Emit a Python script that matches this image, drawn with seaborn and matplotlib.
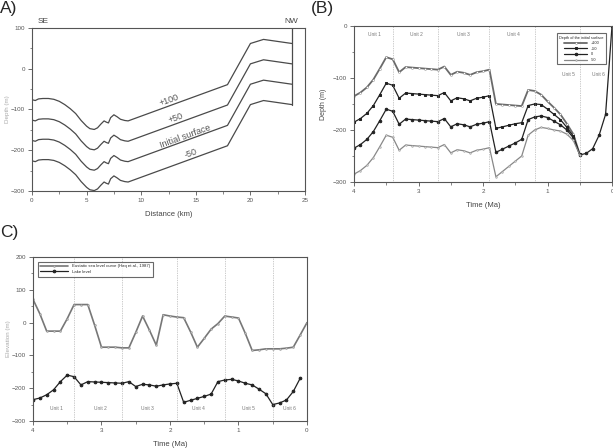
import matplotlib
matplotlib.use("Agg")
import matplotlib.pyplot as plt
import seaborn as sns
from matplotlib.ticker import MultipleLocator

# ---- Panel A: cross-section profiles (distance km vs elevation m)
dist_km = [0, 0.3, 0.6, 1.0, 1.5, 2.0, 2.5, 3.0, 3.5, 4.0, 4.5, 5.0, 5.3, 5.7, 6.0, 6.3,
           6.6, 6.8, 7.0, 7.2, 7.5, 7.8, 8.1, 8.5, 8.8, 17.9, 20.0, 21.2, 23.8]
prof_p100 = [-76, -78, -74, -73, -73, -75, -80, -88, -98, -110, -127, -141, -147, -149, -145, -136,
             -128, -131, -133, -120, -113, -118, -124, -127, -128, -39, 62, 72, 62]
prof_p50 = [-126, -128, -124, -123, -123, -125, -130, -138, -148, -160, -177, -191, -197, -199, -195, -186,
            -178, -181, -183, -170, -163, -168, -174, -177, -178, -89, 12, 22, 12]
prof_init = [-176, -178, -174, -173, -173, -175, -180, -188, -198, -210, -227, -241, -247, -249, -245, -236,
             -228, -231, -233, -220, -213, -218, -224, -227, -228, -139, -38, -28, -38]
prof_m50 = [-226, -228, -224, -223, -223, -225, -230, -238, -248, -260, -277, -291, -297, -299, -295, -286,
            -278, -281, -283, -270, -263, -268, -274, -277, -278, -189, -88, -78, -88]
nw_edge_x = [23.8, 23.8]
nw_edge_y = [100, -88]
prof_labels = ["+100", "+50", "Initial surface", "-50"]
prof_label_x = [12.6, 13.2, 14.0, 14.5]
prof_label_y = [-76, -120, -166, -208]

# ---- Panel B: depth of the lake floor through time
t_b = [4.0, 3.9, 3.8, 3.7, 3.6, 3.5, 3.4, 3.3, 3.2, 3.1, 3.0, 2.9, 2.8, 2.7, 2.6, 2.5, 2.4, 2.3,
       2.2, 2.1, 2.0, 1.9, 1.8, 1.7, 1.6, 1.5, 1.4, 1.3, 1.2, 1.1, 1.0, 0.9, 0.8, 0.7, 0.6, 0.5]
depth_p100 = [-135, -128, -118, -103, -82, -60, -64, -89, -79, -80, -81, -82, -83, -84, -78, -94, -88, -90,
              -94, -89, -87, -84, -150, -151, -152, -153, -154, -123, -125, -132, -145, -157, -170, -188, -208, -247]
depth_p50 = [-185, -178, -168, -153, -132, -110, -114, -139, -129, -130, -131, -132, -133, -134, -128, -144, -138, -140,
             -144, -139, -137, -134, -197, -194, -191, -188, -186, -153, -150, -151, -160, -170, -180, -195, -212, -247]
t_b0 = t_b + [0.4, 0.3, 0.2, 0.1, 0.0]
depth_0 = [-235, -228, -218, -203, -182, -160, -164, -189, -179, -180, -181, -182, -183, -184, -178, -194, -188, -190,
           -194, -189, -187, -184, -243, -237, -231, -225, -218, -180, -175, -173, -176, -183, -190, -200, -215, -248,
           -245, -236, -210, -170, 0]
depth_m50 = [-285, -278, -268, -253, -232, -210, -214, -239, -229, -230, -231, -232, -233, -234, -228, -244, -238, -240,
             -244, -239, -237, -234, -290, -280, -270, -260, -250, -210, -200, -195, -197, -200, -202, -208, -220, -248]
depth_labels = ["+100", "+50", "0", "-50"]

unit_bounds = [3.4, 2.7, 1.9, 1.2, 0.5]
unit_names = ["Unit 1", "Unit 2", "Unit 3", "Unit 4", "Unit 5", "Unit 6"]
unit_x_b = [3.69, 3.03, 2.31, 1.53, 0.68, 0.21]
unit_y_b = [-16, -16, -16, -16, -94, -94]

# ---- Panel C: eustatic sea level vs lake level
t_c = [4.0, 3.9, 3.8, 3.7, 3.6, 3.5, 3.4, 3.3, 3.2, 3.1, 3.0, 2.9, 2.8, 2.7, 2.6, 2.5, 2.4, 2.3, 2.2, 2.1,
       2.0, 1.9, 1.8, 1.7, 1.6, 1.5, 1.4, 1.3, 1.2, 1.1, 1.0, 0.9, 0.8, 0.7, 0.6, 0.5, 0.4, 0.3, 0.2, 0.1, 0.0]
eustatic = [71, 27, -26, -26, -26, 12, 55, 55, 55, -8, -75, -75, -75, -77, -77, -30, 20, -23, -69, 24,
            20, 17, 15, -28, -75, -48, -20, -3, 20, 17, 14, -33, -85, -83, -80, -80, -80, -78, -75, -38, 0]
t_lake = t_c[:-1]
lake = [-235, -230, -220, -205, -180, -160, -165, -190, -180, -181, -182, -183, -184, -185, -180, -195, -188, -190,
        -194, -190, -187, -185, -243, -237, -231, -225, -218, -180, -175, -173, -178, -185, -190, -203, -217, -250,
        -245, -236, -210, -170]
unit_x_c = [3.66, 3.02, 2.33, 1.58, 0.86, 0.25]
unit_y_c = [-262, -262, -262, -262, -262, -262]

sns.set_style("ticks")
plt.rcParams['font.family'] = ['Liberation Sans', 'DejaVu Sans']
plt.rcParams['axes.linewidth'] = 0.8
plt.rcParams['axes.edgecolor'] = '#555555'
plt.rcParams['xtick.color'] = '#555555'
plt.rcParams['ytick.color'] = '#555555'

fig = plt.figure(figsize=(6.13, 4.48), dpi=100)
ax_a = fig.add_axes([0.0522, 0.5737, 0.4454, 0.3638])
ax_b = fig.add_axes([0.5775, 0.5938, 0.4209, 0.3482])
ax_c = fig.add_axes([0.0538, 0.0603, 0.447, 0.366])

line_col = '#4a4a4a'


def style_axes(ax, xmaj, xmin, ymaj, ymin):
    ax.xaxis.set_major_locator(MultipleLocator(xmaj))
    ax.xaxis.set_minor_locator(MultipleLocator(xmin))
    ax.yaxis.set_major_locator(MultipleLocator(ymaj))
    ax.yaxis.set_minor_locator(MultipleLocator(ymin))
    ax.tick_params(which='major', length=3, width=0.6, labelsize=4.5, pad=2)
    ax.tick_params(which='minor', length=1.8, width=0.5)
    for s in ax.spines.values():
        s.set_visible(True)


# ---------------- Panel A
for prof in [prof_p100, prof_p50, prof_init, prof_m50]:
    sns.lineplot(x=dist_km, y=prof, ax=ax_a, color=line_col, lw=0.9, sort=False, estimator=None)
sns.lineplot(x=nw_edge_x, y=nw_edge_y, ax=ax_a, color=line_col, lw=0.9, sort=False, estimator=None)
for lab, lx, ly in zip(prof_labels, prof_label_x, prof_label_y):
    ax_a.text(lx, ly, lab, rotation=20, fontsize=6.5, color='#555555', ha='center', va='center')
ax_a.set_xlim(0, 25)
ax_a.set_ylim(-300, 100)
style_axes(ax_a, 5, 2.5, 100, 50)
ax_a.set_xlabel("Distance (km)", fontsize=5.5, color='#444444', labelpad=6)
ax_a.set_ylabel("Depth (m)", fontsize=4.5, color='#aaaaaa', labelpad=1)
ax_a.text(0.02, 1.02, "SE", transform=ax_a.transAxes, fontsize=6, color='#444444', va='bottom')
ax_a.text(0.95, 1.02, "NW", transform=ax_a.transAxes, fontsize=6, color='#444444', va='bottom', ha='center')
fig.text(0.0, 0.998, "A)", fontsize=12.5, va='top', ha='left')

# ---------------- Panel B
sns.lineplot(x=t_b, y=depth_p100, ax=ax_b, color='#6a6a6a', lw=1.3, marker='o', ms=1.4,
             mfc='white', mec='#777777', mew=0.3, label=depth_labels[0])
sns.lineplot(x=t_b, y=depth_p50, ax=ax_b, color='#222222', lw=0.9, marker='s', ms=1.8,
             mec='#222222', label=depth_labels[1])
sns.lineplot(x=t_b0, y=depth_0, ax=ax_b, color='#222222', lw=0.9, marker='o', ms=1.8,
             mec='#222222', label=depth_labels[2])
sns.lineplot(x=t_b, y=depth_m50, ax=ax_b, color='#888888', lw=0.9, marker='o', ms=1.3,
             mfc='#cccccc', mec='#999999', mew=0.3, label=depth_labels[3])
for xb in unit_bounds:
    ax_b.axvline(xb, color='#999999', lw=0.5, ls=(0, (1, 1.5)))
for name, ux, uy in zip(unit_names, unit_x_b, unit_y_b):
    ax_b.text(ux, uy, name, fontsize=3.5, color='#777777', ha='center', va='center')
ax_b.set_xlim(4, 0)
ax_b.set_ylim(-300, 0)
style_axes(ax_b, 1, 0.5, 100, 50)
ax_b.set_xlabel("Time (Ma)", fontsize=5.5, color='#444444', labelpad=6)
ax_b.set_ylabel("Depth (m)", fontsize=5, color='#444444', labelpad=4)
leg_b = ax_b.legend(title="Depth of the initial surface", loc='upper right', fontsize=2.8,
                    title_fontsize=2.8, frameon=True, fancybox=False, edgecolor='#444444',
                    handlelength=6, borderpad=0.6, labelspacing=0.4, bbox_to_anchor=(0.985, 0.965))
leg_b.get_frame().set_linewidth(0.8)
fig.text(0.507, 0.998, "(B)", fontsize=12.5, va='top', ha='left')

# ---------------- Panel C
sns.lineplot(x=t_c, y=eustatic, ax=ax_c, color='#777777', lw=1.2, marker='o', ms=1.4,
             mfc='#bbbbbb', mec='#888888', mew=0.3, label="Eustatic sea level curve (Haq et al., 1987)")
sns.lineplot(x=t_lake, y=lake, ax=ax_c, color='#222222', lw=0.9, marker='o', ms=1.9,
             mec='#222222', label="Lake level")
for xb in unit_bounds:
    ax_c.axvline(xb, color='#999999', lw=0.5, ls=(0, (1, 1.5)))
for name, ux, uy in zip(unit_names, unit_x_c, unit_y_c):
    ax_c.text(ux, uy, name, fontsize=3.5, color='#777777', ha='center', va='center')
ax_c.set_xlim(4, 0)
ax_c.set_ylim(-300, 200)
style_axes(ax_c, 1, 0.5, 100, 50)
ax_c.set_xlabel("Time (Ma)", fontsize=5.5, color='#444444', labelpad=6)
ax_c.set_ylabel("Elevation (m)", fontsize=4.5, color='#aaaaaa', labelpad=1)
leg_c = ax_c.legend(loc='upper left', fontsize=3.1, frameon=True, fancybox=False,
                    edgecolor='#444444', handlelength=6.5, borderpad=0.6, labelspacing=0.4,
                    bbox_to_anchor=(0.01, 0.985))
leg_c.get_frame().set_linewidth(0.8)
fig.text(0.0, 0.498, "C)", fontsize=12.5, va='top', ha='left')

fig.savefig("out.png", dpi=100)
